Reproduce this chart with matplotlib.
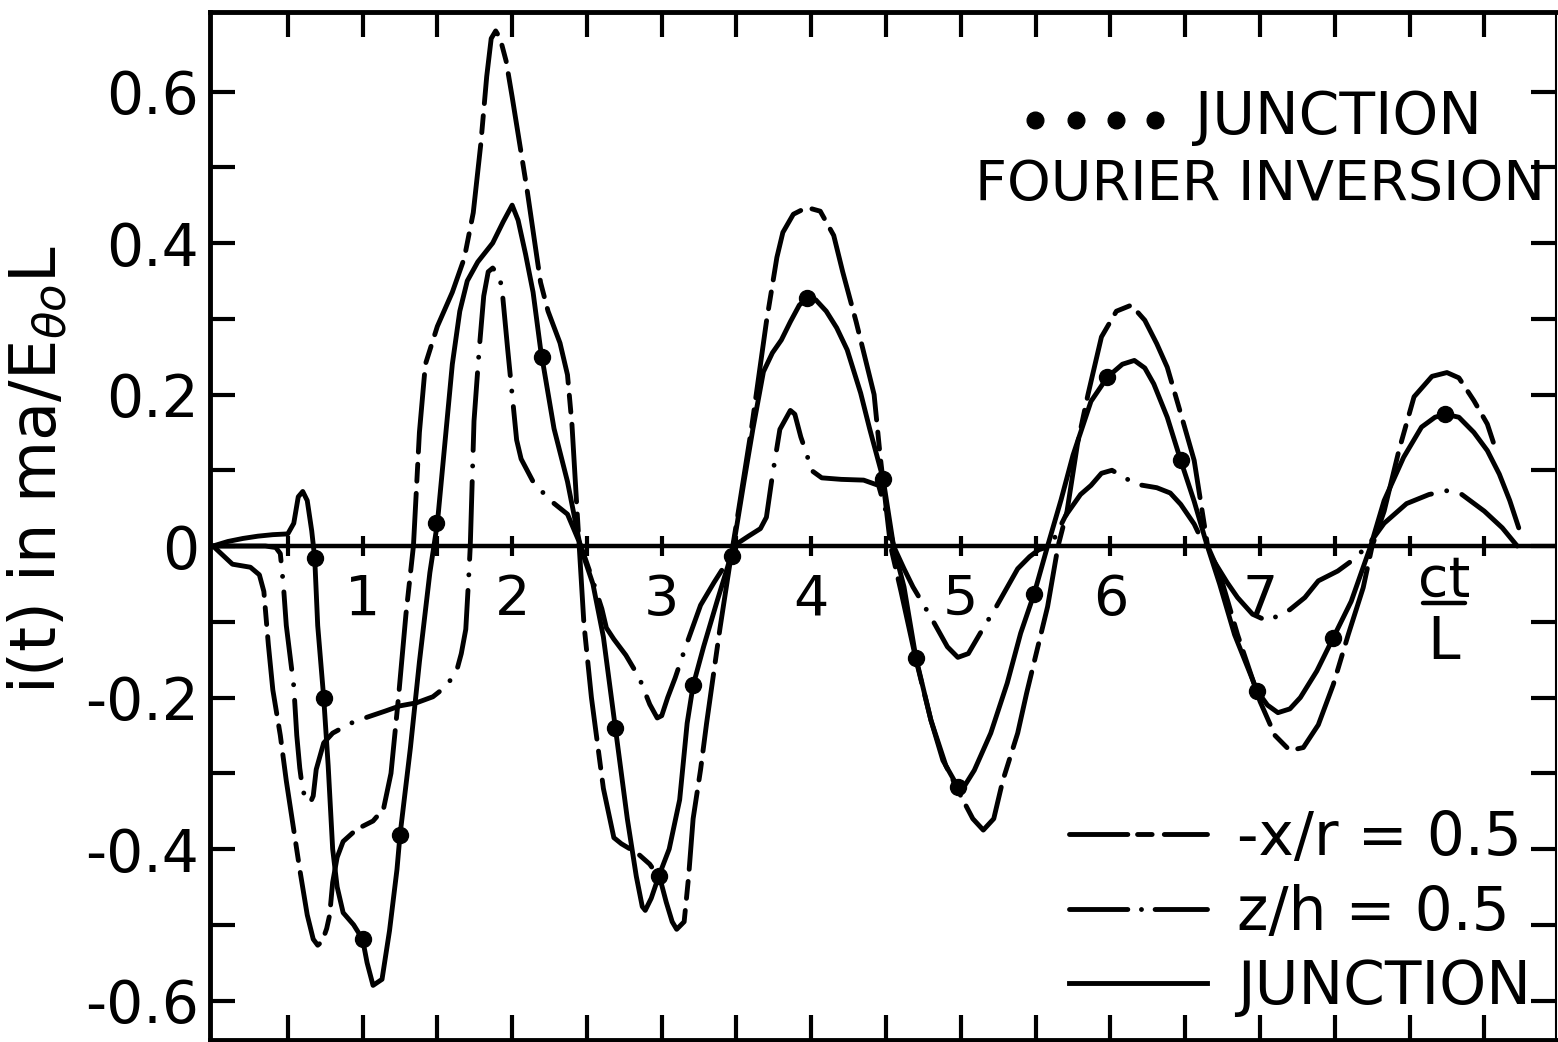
import numpy as np
import matplotlib.pyplot as plt
from matplotlib.lines import Line2D

plt.rcParams['font.family'] = ['DejaVu Sans']
plt.rcParams['mathtext.fontset'] = 'dejavusans'

# -x/r = 0.5 curve (x = ct/L, y = current)
XR = np.array([
    (0, 0), (0.13, -0.024), (0.25, -0.028), (0.31, -0.038), (0.34, -0.06), (0.37, -0.13),
    (0.4, -0.19), (0.45, -0.25), (0.49, -0.31), (0.54, -0.375), (0.58, -0.427), (0.63, -0.487),
    (0.67, -0.519), (0.7, -0.527), (0.73, -0.522), (0.76, -0.505), (0.78, -0.487), (0.8, -0.444),
    (0.83, -0.411), (0.87, -0.39), (0.96, -0.374), (1.07, -0.363), (1.14, -0.347), (1.19, -0.3),
    (1.24, -0.2), (1.29, -0.09), (1.34, 0.0), (1.38, 0.15), (1.42, 0.24), (1.5, 0.29),
    (1.6, 0.335), (1.68, 0.38), (1.74, 0.44), (1.79, 0.53), (1.83, 0.62), (1.86, 0.67),
    (1.89, 0.68), (1.92, 0.67), (1.96, 0.64), (2.0, 0.593), (2.1, 0.47), (2.19, 0.348),
    (2.24, 0.31), (2.32, 0.268), (2.37, 0.226), (2.4, 0.16), (2.43, 0.06), (2.48, -0.103),
    (2.53, -0.2), (2.61, -0.32), (2.68, -0.385), (2.73, -0.393), (2.84, -0.406), (2.92, -0.42),
    (2.99, -0.44), (3.03, -0.47), (3.07, -0.496), (3.1, -0.506), (3.15, -0.496), (3.18, -0.436),
    (3.21, -0.36), (3.26, -0.295), (3.3, -0.234), (3.35, -0.164), (3.39, -0.108), (3.46, -0.018),
    (3.5, 0.03), (3.6, 0.155), (3.7, 0.296), (3.77, 0.381), (3.81, 0.414), (3.88, 0.438),
    (3.97, 0.447), (4.06, 0.442), (4.15, 0.41), (4.21, 0.362), (4.3, 0.296), (4.37, 0.24),
    (4.42, 0.2), (4.46, 0.12), (4.53, 0.0), (4.6, -0.06), (4.7, -0.15), (4.8, -0.23),
    (4.9, -0.29), (5.0, -0.33), (5.08, -0.36), (5.15, -0.375), (5.22, -0.36), (5.28, -0.31),
    (5.38, -0.247), (5.44, -0.194), (5.51, -0.137), (5.58, -0.08), (5.65, 0.0), (5.71, 0.046),
    (5.78, 0.135), (5.85, 0.2), (5.94, 0.276), (6.04, 0.31), (6.14, 0.318), (6.23, 0.298),
    (6.31, 0.267), (6.38, 0.236), (6.47, 0.175), (6.56, 0.113), (6.6, 0.063), (6.65, 0.0),
    (6.73, -0.036), (6.85, -0.117), (7.0, -0.205), (7.1, -0.25), (7.2, -0.27), (7.29, -0.266),
    (7.39, -0.236), (7.49, -0.183), (7.59, -0.117), (7.69, -0.055), (7.75, 0.0), (7.83, 0.046),
    (7.93, 0.127), (8.03, 0.197), (8.15, 0.224), (8.25, 0.229), (8.33, 0.222), (8.43, 0.192),
    (8.52, 0.161), (8.56, 0.137),
])

# z/h = 0.5 curve
ZH = np.array([
    (0, 0), (0.2, 0.0), (0.35, 0.0), (0.42, -0.002), (0.45, -0.01), (0.47, -0.05),
    (0.49, -0.105), (0.54, -0.185), (0.56, -0.25), (0.58, -0.293), (0.6, -0.323), (0.63, -0.336),
    (0.65, -0.339), (0.67, -0.33), (0.69, -0.295), (0.74, -0.26), (0.8, -0.247), (0.92, -0.234),
    (1.03, -0.226), (1.15, -0.218), (1.25, -0.211), (1.36, -0.207), (1.47, -0.199), (1.56, -0.185),
    (1.63, -0.164), (1.66, -0.142), (1.69, -0.11), (1.71, -0.04), (1.72, 0.0), (1.745, 0.165),
    (1.78, 0.26), (1.81, 0.33), (1.84, 0.362), (1.87, 0.367), (1.9, 0.36), (1.93, 0.344),
    (1.97, 0.26), (2.0, 0.2), (2.03, 0.14), (2.06, 0.115), (2.14, 0.085), (2.25, 0.061),
    (2.37, 0.042), (2.43, 0.014), (2.46, 0.0), (2.53, -0.04), (2.6, -0.083), (2.63, -0.108),
    (2.68, -0.123), (2.76, -0.144), (2.85, -0.174), (2.92, -0.209), (2.97, -0.227), (3.0, -0.224),
    (3.04, -0.2), (3.09, -0.174), (3.16, -0.133), (3.26, -0.078), (3.35, -0.048), (3.44, -0.02),
    (3.48, 0.0), (3.58, 0.013), (3.66, 0.023), (3.7, 0.038), (3.74, 0.093), (3.79, 0.154),
    (3.86, 0.179), (3.89, 0.174), (3.93, 0.144), (3.97, 0.121), (4.0, 0.1), (4.07, 0.09),
    (4.2, 0.088), (4.35, 0.087), (4.45, 0.08), (4.5, 0.045), (4.55, 0.0), (4.62, -0.03),
    (4.68, -0.054), (4.8, -0.094), (4.91, -0.133), (4.98, -0.147), (5.05, -0.142), (5.13, -0.115),
    (5.24, -0.079), (5.38, -0.03), (5.46, -0.014), (5.52, -0.005), (5.6, 0.0), (5.7, 0.04),
    (5.8, 0.068), (5.87, 0.08), (5.94, 0.096), (6.01, 0.1), (6.1, 0.09), (6.16, 0.082),
    (6.31, 0.077), (6.4, 0.07), (6.47, 0.055), (6.56, 0.029), (6.63, 0.0), (6.78, -0.048),
    (6.85, -0.068), (6.95, -0.09), (7.05, -0.099), (7.2, -0.084), (7.3, -0.068), (7.39, -0.046),
    (7.52, -0.033), (7.61, -0.02), (7.72, 0.0), (7.83, 0.03), (7.98, 0.056), (8.13, 0.068),
    (8.25, 0.073), (8.35, 0.068), (8.5, 0.046), (8.62, 0.024), (8.72, 0.0),
])

# junction curve
JN = np.array([
    (0, 0), (0.1, 0.006), (0.2, 0.01), (0.3, 0.013), (0.4, 0.015), (0.5, 0.016),
    (0.54, 0.03), (0.57, 0.065), (0.6, 0.072), (0.63, 0.06), (0.66, 0.02), (0.68, -0.016),
    (0.7, -0.105), (0.74, -0.2), (0.77, -0.29), (0.8, -0.4), (0.83, -0.45), (0.87, -0.484),
    (0.94, -0.5), (1.0, -0.519), (1.03, -0.55), (1.07, -0.58), (1.13, -0.572), (1.18, -0.508),
    (1.23, -0.427), (1.25, -0.382), (1.32, -0.266), (1.38, -0.153), (1.45, -0.035), (1.5, 0.03),
    (1.55, 0.135), (1.6, 0.24), (1.65, 0.31), (1.7, 0.35), (1.77, 0.375), (1.87, 0.4),
    (1.94, 0.428), (2.0, 0.45), (2.04, 0.43), (2.09, 0.385), (2.14, 0.335), (2.19, 0.26),
    (2.28, 0.155), (2.37, 0.085), (2.455, 0.0), (2.54, -0.05), (2.61, -0.12), (2.69, -0.24),
    (2.77, -0.36), (2.83, -0.436), (2.87, -0.476), (2.89, -0.481), (2.93, -0.465), (2.98, -0.436),
    (3.05, -0.4), (3.12, -0.335), (3.17, -0.234), (3.21, -0.184), (3.28, -0.133), (3.37, -0.073),
    (3.44, -0.028), (3.48, 0.0), (3.55, 0.085), (3.61, 0.155), (3.68, 0.23), (3.74, 0.255),
    (3.8, 0.272), (3.86, 0.296), (3.92, 0.318), (3.97, 0.327), (4.03, 0.325), (4.1, 0.31),
    (4.17, 0.288), (4.24, 0.259), (4.33, 0.202), (4.39, 0.155), (4.48, 0.089), (4.55, 0.0),
    (4.62, -0.054), (4.7, -0.148), (4.8, -0.23), (4.88, -0.283), (4.98, -0.318), (5.03, -0.315),
    (5.09, -0.296), (5.2, -0.247), (5.31, -0.181), (5.4, -0.115), (5.49, -0.063), (5.58, 0.0),
    (5.67, 0.061), (5.75, 0.12), (5.87, 0.191), (5.98, 0.223), (6.08, 0.24), (6.16, 0.245),
    (6.23, 0.235), (6.29, 0.214), (6.38, 0.17), (6.47, 0.113), (6.56, 0.059), (6.64, 0.005),
    (6.73, -0.05), (6.83, -0.117), (6.98, -0.191), (7.05, -0.21), (7.12, -0.22), (7.2, -0.215),
    (7.27, -0.2), (7.38, -0.165), (7.49, -0.121), (7.61, -0.073), (7.74, 0.0), (7.83, 0.06),
    (7.96, 0.117), (8.08, 0.157), (8.17, 0.17), (8.24, 0.174), (8.33, 0.17), (8.43, 0.15),
    (8.52, 0.126), (8.6, 0.095), (8.67, 0.06), (8.73, 0.024),
])

# junction values from Fourier inversion (dots)
FI_X = [0.68, 0.74, 1.0, 1.25, 1.49, 2.2, 2.69, 2.98, 3.21, 3.47,
        3.97, 4.48, 4.7, 4.98, 5.49, 5.98, 6.47, 6.98, 7.49, 8.24]
FI_Y = [-0.016, -0.2, -0.519, -0.382, 0.03, 0.25, -0.24, -0.436, -0.184, -0.013,
        0.327, 0.088, -0.148, -0.318, -0.063, 0.223, 0.113, -0.191, -0.121, 0.174]

Y_TICKS = [-0.6, -0.4, -0.2, 0, 0.2, 0.4, 0.6]
Y_LABELS = ['-0.6', '-0.4', '-0.2', '0', '0.2', '0.4', '0.6']
X_NUMS = [1, 2, 3, 4, 5, 6, 7]
CT_X = 8.23  # where the ct/L axis name sits

LW = 3.5
XR_STYLE = (0, (16, 2.5, 3.5, 2.5))
ZH_STYLE = (0, (16, 3.2, 0.01, 3.2))

fig = plt.figure(figsize=(15.58, 10.42), dpi=100)
ax = fig.add_axes([0.1348, 0.002, 0.8640, 0.9865])

ax.plot(XR[:, 0], XR[:, 1], color='k', lw=LW, ls=XR_STYLE, dash_capstyle='round')
ax.plot(ZH[:, 0], ZH[:, 1], color='k', lw=LW, ls=ZH_STYLE, dash_capstyle='round')
ax.plot(JN[:, 0], JN[:, 1], color='k', lw=LW, solid_capstyle='round', solid_joinstyle='round')
ax.plot(FI_X, FI_Y, 'o', color='k', ms=11.5)

# zero line with its own small ticks
ax.axhline(0, color='k', lw=3.2)
zt = np.arange(0.5, 8.6, 0.5)
ax.plot(zt, np.zeros_like(zt), '|', color='k', ms=15, mew=3)
for k in X_NUMS:
    ax.text(k, -0.035, str(k), ha='center', va='top', fontsize=40)

# ct/L written as a fraction
ax.text(CT_X, -0.066, 'ct', ha='center', va='baseline', fontsize=40)
ax.plot([CT_X - 0.14, CT_X + 0.14], [-0.075, -0.075], color='k', lw=3.2,
        solid_capstyle='round')
ax.text(CT_X, -0.149, 'L', ha='center', va='baseline', fontsize=42)

ax.set_xlim(-0.02, 8.98)
ax.set_ylim(-0.652, 0.705)
ax.set_xticks(np.arange(0.5, 8.6, 0.5))
ax.set_xticklabels([])
ax.set_yticks(Y_TICKS, Y_LABELS)
ax.set_yticks(np.arange(-0.6, 0.65, 0.1), minor=True)
ax.tick_params(axis='x', direction='in', top=True, bottom=True, length=18, width=3)
ax.tick_params(axis='y', which='both', direction='in', left=True, right=True,
               length=18, width=3, labelsize=42, pad=8)
for side in ['left', 'top', 'bottom']:
    ax.spines[side].set_linewidth(3.5)
ax.spines['right'].set_linewidth(1.5)

fig.text(0.024, 0.549, r'i(t) in ma/E$_{\theta o}$L', rotation=90,
         ha='center', va='center', fontsize=46)

# top-right key
ax.plot([0.613, 0.643, 0.673, 0.702], [0.895] * 4, 'o', color='k', ms=12,
        transform=ax.transAxes, clip_on=False)
ax.text(0.732, 0.897, 'JUNCTION', transform=ax.transAxes, ha='left', va='center', fontsize=42)
ax.text(0.992, 0.832, 'FOURIER INVERSION', transform=ax.transAxes, ha='right', va='center',
        fontsize=40)

handles = [
    Line2D([], [], color='k', lw=LW, ls=(0, (12, 2, 3, 2.5)), dash_capstyle='round'),
    Line2D([], [], color='k', lw=LW, ls=(0, (12, 2.8, 0.01, 2.8)), dash_capstyle='round'),
    Line2D([], [], color='k', lw=LW),
]
ax.legend(handles, ['-x/r = 0.5', 'z/h = 0.5', 'JUNCTION'], loc='lower right',
          bbox_to_anchor=(0.981, 0.022), frameon=False, fontsize=43, handlelength=2.3,
          handletextpad=0.5, labelspacing=0.26, borderpad=0, borderaxespad=0)

fig.savefig('out.png', dpi=100)
